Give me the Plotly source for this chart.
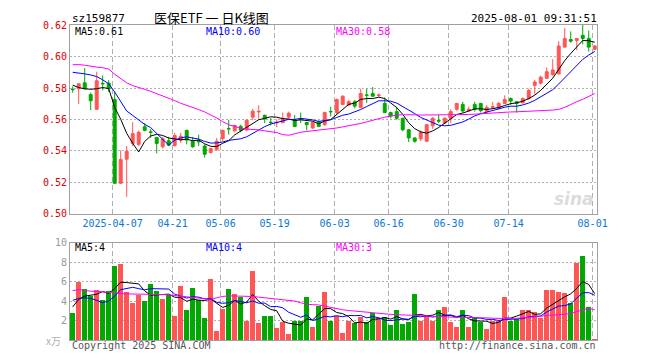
import plotly.graph_objects as go
import pandas as pd

# ---------------- data ----------------
dates = [
    "2025-03-26", "2025-03-27", "2025-03-28", "2025-03-31",
    "2025-04-01", "2025-04-02", "2025-04-03", "2025-04-07", "2025-04-08", "2025-04-09", "2025-04-10", "2025-04-11",
    "2025-04-14", "2025-04-15", "2025-04-16", "2025-04-17", "2025-04-18",
    "2025-04-21", "2025-04-22", "2025-04-23", "2025-04-24", "2025-04-25",
    "2025-04-28", "2025-04-29", "2025-04-30",
    "2025-05-06", "2025-05-07", "2025-05-08", "2025-05-09",
    "2025-05-12", "2025-05-13", "2025-05-14", "2025-05-15", "2025-05-16",
    "2025-05-19", "2025-05-20", "2025-05-21", "2025-05-22", "2025-05-23",
    "2025-05-26", "2025-05-27", "2025-05-28", "2025-05-29", "2025-05-30",
    "2025-06-03", "2025-06-04", "2025-06-05", "2025-06-06",
    "2025-06-09", "2025-06-10", "2025-06-11", "2025-06-12", "2025-06-13",
    "2025-06-16", "2025-06-17", "2025-06-18", "2025-06-19", "2025-06-20",
    "2025-06-23", "2025-06-24", "2025-06-25", "2025-06-26", "2025-06-27",
    "2025-06-30", "2025-07-01", "2025-07-02", "2025-07-03", "2025-07-04",
    "2025-07-07", "2025-07-08", "2025-07-09", "2025-07-10", "2025-07-11",
    "2025-07-14", "2025-07-15", "2025-07-16", "2025-07-17", "2025-07-18",
    "2025-07-21", "2025-07-22", "2025-07-23", "2025-07-24", "2025-07-25",
    "2025-07-28", "2025-07-29", "2025-07-30", "2025-07-31", "2025-08-01",
]

open_ = [
    0.5792, 0.5796, 0.5833, 0.5758, 0.5665, 0.5829, 0.5831, 0.5727, 0.5195, 0.5348,
    0.5448, 0.5442, 0.5554, 0.5521, 0.5485, 0.5427, 0.5465, 0.5435, 0.5469, 0.5531,
    0.5462, 0.5466, 0.5431, 0.5390, 0.5410, 0.5479, 0.5542, 0.5528, 0.5557, 0.5534,
    0.5615, 0.5648, 0.5627, 0.5583, 0.5578, 0.5580, 0.5615, 0.5598, 0.5605, 0.5581,
    0.5546, 0.5585, 0.5567, 0.5651, 0.5644, 0.5696, 0.5692, 0.5713, 0.5677, 0.5756,
    0.5765, 0.5752, 0.5702, 0.5644, 0.5650, 0.5608, 0.5535, 0.5483, 0.5477, 0.5462,
    0.5560, 0.5594, 0.5577, 0.5608, 0.5665, 0.5696, 0.5656, 0.5696, 0.5702, 0.5650,
    0.5677, 0.5671, 0.5702, 0.5733, 0.5713, 0.5706, 0.5733, 0.5817, 0.5831, 0.5862,
    0.5885, 0.5890, 0.6060, 0.6108, 0.6102, 0.6135, 0.6115, 0.6046,
]
high = [
    0.5810, 0.5830, 0.5927, 0.5771, 0.5904, 0.5880, 0.5850, 0.5776, 0.5404, 0.5431,
    0.5583, 0.5530, 0.5577, 0.5540, 0.5490, 0.5490, 0.5490, 0.5515, 0.5515, 0.5535,
    0.5490, 0.5504, 0.5442, 0.5420, 0.5483, 0.5535, 0.5598, 0.5567, 0.5567, 0.5599,
    0.5668, 0.5690, 0.5630, 0.5608, 0.5600, 0.5644, 0.5650, 0.5629, 0.5644, 0.5585,
    0.5587, 0.5594, 0.5650, 0.5681, 0.5733, 0.5754, 0.5723, 0.5723, 0.5796, 0.5796,
    0.5806, 0.5765, 0.5740, 0.5650, 0.5681, 0.5610, 0.5540, 0.5485, 0.5531, 0.5573,
    0.5615, 0.5630, 0.5615, 0.5665, 0.5706, 0.5713, 0.5681, 0.5713, 0.5706, 0.5692,
    0.5713, 0.5713, 0.5754, 0.5740, 0.5717, 0.5740, 0.5796, 0.5852, 0.5879, 0.5931,
    0.5983, 0.6098, 0.6181, 0.6160, 0.6115, 0.6202, 0.6165, 0.6073,
]
low = [
    0.5770, 0.5698, 0.5790, 0.5660, 0.5660, 0.5785, 0.5775, 0.5190, 0.5190, 0.5108,
    0.5430, 0.5430, 0.5525, 0.5483, 0.5385, 0.5415, 0.5431, 0.5427, 0.5452, 0.5442,
    0.5420, 0.5431, 0.5358, 0.5385, 0.5400, 0.5462, 0.5504, 0.5519, 0.5520, 0.5525,
    0.5595, 0.5605, 0.5577, 0.5563, 0.5552, 0.5577, 0.5608, 0.5552, 0.5577, 0.5531,
    0.5540, 0.5552, 0.5560, 0.5619, 0.5635, 0.5692, 0.5685, 0.5671, 0.5671, 0.5706,
    0.5744, 0.5744, 0.5640, 0.5608, 0.5598, 0.5525, 0.5456, 0.5452, 0.5462, 0.5458,
    0.5540, 0.5577, 0.5573, 0.5577, 0.5656, 0.5644, 0.5650, 0.5650, 0.5644, 0.5644,
    0.5665, 0.5665, 0.5700, 0.5692, 0.5644, 0.5702, 0.5727, 0.5760, 0.5823, 0.5858,
    0.5879, 0.5885, 0.6056, 0.6088, 0.6040, 0.6077, 0.6031, 0.6040,
]
close = [
    0.5790, 0.5827, 0.5796, 0.5719, 0.5846, 0.5827, 0.5796, 0.5195, 0.5346, 0.5398,
    0.5510, 0.5519, 0.5531, 0.5519, 0.5448, 0.5477, 0.5437, 0.5498, 0.5494, 0.5469,
    0.5427, 0.5458, 0.5379, 0.5415, 0.5462, 0.5531, 0.5540, 0.5562, 0.5532, 0.5595,
    0.5653, 0.5652, 0.5604, 0.5581, 0.5582, 0.5608, 0.5640, 0.5556, 0.5603, 0.5567,
    0.5581, 0.5556, 0.5644, 0.5649, 0.5727, 0.5748, 0.5713, 0.5685, 0.5765, 0.5754,
    0.5748, 0.5756, 0.5644, 0.5623, 0.5608, 0.5535, 0.5483, 0.5462, 0.5519, 0.5567,
    0.5608, 0.5590, 0.5608, 0.5650, 0.5702, 0.5654, 0.5665, 0.5665, 0.5656, 0.5677,
    0.5681, 0.5702, 0.5727, 0.5717, 0.5702, 0.5733, 0.5785, 0.5838, 0.5869, 0.5904,
    0.5915, 0.6067, 0.6115, 0.6098, 0.6115, 0.6115, 0.6060, 0.6067,
]
volume = [
    2.73, 5.93, 5.20, 4.53, 5.10, 4.10, 5.03, 7.63, 7.83, 4.90,
    3.83, 4.60, 4.00, 5.70, 5.03, 4.20, 4.60, 2.43, 5.50, 3.13,
    5.30, 4.10, 2.23, 6.23, 0.93, 3.23, 5.20, 4.70, 4.43, 1.93,
    7.13, 1.70, 2.43, 2.50, 1.23, 1.80, 0.63, 2.00, 2.00, 4.40,
    1.33, 3.50, 4.93, 1.93, 2.43, 0.73, 2.00, 1.70, 2.33, 1.83,
    2.73, 2.27, 2.40, 1.50, 3.10, 1.60, 1.80, 4.70, 1.93, 2.40,
    1.93, 3.10, 3.40, 1.80, 1.30, 3.10, 1.30, 2.33, 1.80, 1.10,
    1.93, 1.93, 4.40, 1.90, 2.13, 3.10, 3.10, 2.90, 2.23, 5.10,
    5.10, 4.90, 4.80, 3.80, 7.90, 8.60, 3.40, 0.10,
]

ma5_head = [0.5818, 0.5803, 0.5795, 0.5792]
ma10_head = [0.5900, 0.5896, 0.5890, 0.5883, 0.5873, 0.5852, 0.5827, 0.5775, 0.5715]
ma30_price = [
    0.5948, 0.5949, 0.5945, 0.5938, 0.5933, 0.5929, 0.5920, 0.5888, 0.5860, 0.5833,
    0.5815, 0.5805, 0.5792, 0.5779, 0.5764, 0.5754, 0.5738, 0.5720, 0.5703, 0.5691,
    0.5677, 0.5663, 0.5648, 0.5630, 0.5610, 0.5586, 0.5567, 0.5556, 0.5545, 0.5539,
    0.5538, 0.5534, 0.5528, 0.5523, 0.5517, 0.5504, 0.5500, 0.5509, 0.5519, 0.5524,
    0.5528, 0.5530, 0.5535, 0.5540, 0.5546, 0.5553, 0.5559, 0.5566, 0.5575, 0.5585,
    0.5596, 0.5606, 0.5615, 0.5621, 0.5628, 0.5630, 0.5631, 0.5630, 0.5628, 0.5628,
    0.5628, 0.5628, 0.5629, 0.5630, 0.5630, 0.5631, 0.5632, 0.5634, 0.5637, 0.5640,
    0.5642, 0.5644, 0.5646, 0.5648, 0.5649, 0.5650, 0.5651, 0.5653, 0.5655, 0.5658,
    0.5660, 0.5664, 0.5677, 0.5697, 0.5713, 0.5728, 0.5748, 0.5765,
]
vol_ma5_head = [3.40, 4.17, 4.50, 4.57]
vol_ma10_head = [4.07, 4.27, 4.33, 4.27, 4.07, 3.83, 4.00, 4.50, 5.17]
vol_ma30 = [
    5.07, 5.17, 5.10, 5.00, 5.00, 4.93, 4.87, 4.80, 4.77, 4.73,
    4.73, 4.70, 4.70, 4.67, 4.67, 4.67, 4.63, 4.57, 4.50, 4.43,
    4.40, 4.33, 4.30, 4.17, 4.33, 4.47, 4.53, 4.53, 4.50, 4.50,
    4.47, 4.40, 4.33, 4.27, 4.20, 4.13, 4.07, 4.00, 3.83, 3.67,
    3.63, 3.60, 3.47, 3.33, 3.23, 3.10, 3.03, 2.97, 2.90, 2.87,
    2.77, 2.70, 2.67, 2.63, 2.60, 2.57, 2.53, 2.50, 2.47, 2.47,
    2.40, 2.37, 2.37, 2.37, 2.33, 2.33, 2.33, 2.33, 2.30, 2.27,
    2.23, 2.20, 2.17, 2.20, 2.23, 2.27, 2.30, 2.37, 2.43, 2.53,
    2.57, 2.57, 2.63, 2.73, 2.90, 3.10, 3.27, 3.10,
]

tick_dates = ["2025-04-07", "2025-04-21", "2025-05-06", "2025-05-19", "2025-06-03",
              "2025-06-16", "2025-06-30", "2025-07-14", "2025-08-01"]
tick_labels = ["2025-04-07", "04-21", "05-06", "05-19", "06-03", "06-16", "06-30", "07-14", "08-01"]
price_ticks = [0.50, 0.52, 0.54, 0.56, 0.58, 0.60, 0.62]
vol_ticks = [2, 4, 6, 8, 10]
price_legend = ["MA5:0.61", "MA10:0.60", "MA30:0.58"]
vol_legend = ["MA5:4", "MA10:4", "MA30:3"]
code_text = "sz159877"
title_text = "医保ETF 一 日K线图"
time_text = "2025-08-01 09:31:51"

# ---------------- derived ----------------
def moving(vals, n, head):
    s = pd.Series(vals).rolling(n).mean().tolist()
    return list(head) + s[len(head):]

ma5 = moving(close, 5, ma5_head)
ma10 = moving(close, 10, ma10_head)
vma5 = moving(volume, 5, vol_ma5_head)
vma10 = moving(volume, 10, vol_ma10_head)

x = list(range(len(dates)))
UP = "#ff5555"
DOWN = "#00a800"
MA_COLORS = ["#000000", "#0000ff", "#ff00ff"]
FRAME = "#a0a0a0"
GRID = "#b0b0b0"
MONO = "DejaVu Sans Mono"

fig = go.Figure()
fig.add_trace(go.Candlestick(
    x=x, open=open_, high=high, low=low, close=close,
    increasing=dict(line=dict(color=UP, width=1), fillcolor=UP),
    decreasing=dict(line=dict(color=DOWN, width=1), fillcolor=DOWN),
    whiskerwidth=0, xaxis="x", yaxis="y", hoverinfo="skip", showlegend=False))
for vals, col in zip([ma5, ma10, ma30_price], MA_COLORS):
    fig.add_trace(go.Scatter(x=x, y=vals, mode="lines", line=dict(color=col, width=1),
                             xaxis="x", yaxis="y", hoverinfo="skip", showlegend=False))

bar_colors = [UP if c >= o else DOWN for o, c in zip(open_, close)]
fig.add_trace(go.Bar(x=x, y=volume, marker=dict(color=bar_colors, line=dict(width=0)),
                     width=0.85, xaxis="x2", yaxis="y2", hoverinfo="skip", showlegend=False))
for vals, col in zip([vma5, vma10, vol_ma30], MA_COLORS):
    fig.add_trace(go.Scatter(x=x, y=vals, mode="lines", line=dict(color=col, width=1),
                             xaxis="x2", yaxis="y2", hoverinfo="skip", showlegend=False))

tickpos = [dates.index(d) - 0.35 for d in tick_dates]
xrange_ = [-0.45, len(dates) - 1 + 0.38]

# page pixels: plot area 70..597 x 20..340; the page body adds an 8px offset
OFF = 8
L, R, T, B = 70, 597, 20, 340
W, H = 660 - OFF, 360 - OFF
def px(xp):
    return (xp - L) / (R - L)
def py(yp):
    return (B - yp) / (B - T)

common_x = dict(range=xrange_, tickvals=tickpos, showgrid=True, gridcolor=GRID,
                griddash="5px,3px", gridwidth=1, zeroline=False, showline=True,
                mirror=True, linecolor=FRAME, linewidth=1, ticks="", fixedrange=True)

fig.update_layout(
    width=W, height=H,
    margin=dict(l=L - OFF, r=660 - R, t=T - OFF, b=360 - B, pad=0),
    paper_bgcolor="white", plot_bgcolor="white",
    boxgap=0.3,
    bargap=0,
    showlegend=False,
    xaxis=dict(**common_x, domain=[0, 1], anchor="y", ticktext=tick_labels,
               tickfont=dict(family=MONO, size=10, color="#0a78d2"),
               rangeslider=dict(visible=False)),
    xaxis2=dict(**common_x, domain=[0, 1], anchor="y2", showticklabels=False),
    yaxis=dict(domain=[py(212), 1], range=[0.49995, 0.62005], tickvals=price_ticks,
               ticktext=["%.2f" % v for v in price_ticks],
               tickfont=dict(family=MONO, size=10, color="#e00000"),
               showgrid=True, gridcolor=GRID, griddash="2px,2px", zeroline=False,
               showline=True, mirror=True, linecolor=FRAME, linewidth=1, ticks="",
               fixedrange=True),
    yaxis2=dict(domain=[0, py(241)], range=[0, 10.005], tickvals=vol_ticks,
                ticktext=[str(v) for v in vol_ticks],
                tickfont=dict(family=MONO, size=10, color="#999999"),
                showgrid=True, gridcolor=GRID, griddash="2px,2px", zeroline=False,
                showline=True, mirror=True, linecolor=FRAME, linewidth=1, ticks="",
                fixedrange=True),
)

ann = []
def text(s, xp, yp, color="#000000", size=10, family=MONO, xanchor="left", **kw):
    ann.append(dict(text=s, x=px(xp), y=py(yp), xref="paper", yref="paper",
                    xanchor=xanchor, yanchor="middle", showarrow=False,
                    font=dict(family=family, size=size, color=color, **kw)))

text(code_text, 70, 13, size=11)
text(title_text, 211, 12, size=13, family="Noto Sans CJK SC", xanchor="center")
text(time_text, 599, 13, size=11, xanchor="right")
for s, xp, col in zip(price_legend, [73, 204, 334], MA_COLORS):
    text(s, xp, 27, color=col)
for s, xp, col in zip(vol_legend, [73, 204, 334], MA_COLORS):
    text(s, xp, 246, color=col)
text("x万", 63, 341, color="#b0b0b0", size=10, family="Noto Sans CJK SC", xanchor="right")
text("Copyright 2025 SINA.COM", 70, 346, color="#555555")
text("http://finance.sina.com.cn", 598, 346, color="#555555", xanchor="right")
text("sina", 596, 197, color="#dcdcdc", size=17, family="DejaVu Sans",
     xanchor="right", style="italic", weight="bold")
fig.update_layout(annotations=ann)

fig.write_html("out.html", config={"staticPlot": True})
